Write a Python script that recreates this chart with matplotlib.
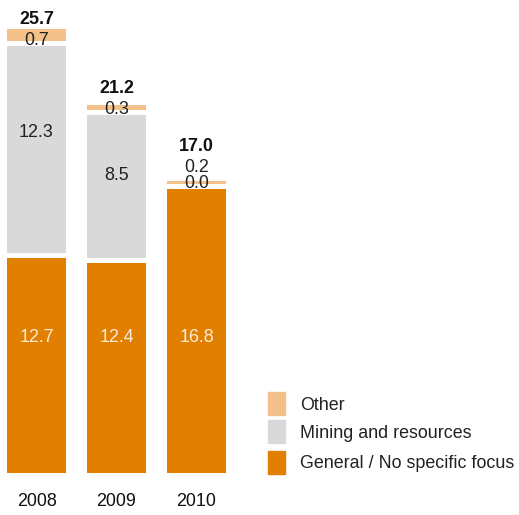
import matplotlib
matplotlib.use("Agg")
import matplotlib.pyplot as plt
from matplotlib.patches import Rectangle

plt.rcParams["font.family"] = ["Liberation Sans", "DejaVu Sans"]

# Data (USD bn)
years = ["2008", "2009", "2010"]
general = [12.7, 12.4, 16.8]
mining = [12.3, 8.5, 0.0]
other = [0.7, 0.3, 0.2]
totals = [25.7, 21.2, 17.0]

series_names = ["General / No specific focus", "Mining and resources", "Other"]
colors = ["#E17F00", "#D9D9D9", "#F3C089"]

W, H = 519, 515
fig = plt.figure(figsize=(W / 100, H / 100), dpi=100)
ax = fig.add_axes([0, 0, 1, 1])

# Pixel-based layout of the plotting area
x0_px, step_px = 36.5, 80.0      # first bar centre, spacing
base_px, unit_px = 42.0, 16.9    # baseline from bottom, pixels per unit
ax.set_xlim(-x0_px / step_px, (W - x0_px) / step_px)
ax.set_ylim(-base_px / unit_px, (H - base_px) / unit_px)
ax.axis("off")

gap = 5.0 / unit_px   # white separation between stacked segments
bar_w = 59.0 / step_px
xs = list(range(len(years)))

fs = 12.9
for i, x in enumerate(xs):
    # base segment
    ax.bar(x, general[i], bottom=0, width=bar_w, color=colors[0], zorder=2)
    top = general[i]
    ax.text(x, 8.0, f"{general[i]:.1f}", ha="center", va="center",
            color="#FCEBD8", fontsize=fs, zorder=4)

    # mining segment
    mb = top + gap
    if mining[i] > 0:
        ax.bar(x, mining[i], bottom=mb, width=bar_w, color=colors[1], zorder=2)
        ax.text(x, mb + 0.58 * mining[i], f"{mining[i]:.1f}", ha="center",
                va="center", color="#222222", fontsize=fs, zorder=4)
        label_base = mb + mining[i]
        ob = label_base + gap
    else:
        label_base = top
        ob = mb

    # other segment
    ax.bar(x, other[i], bottom=ob, width=bar_w, color=colors[2], zorder=2)

    # value labels stacked above the bar
    lines = []
    if mining[i] == 0:
        lines.append(f"{mining[i]:.1f}")
    lines.append(f"{other[i]:.1f}")
    off = 1
    for txt in lines:
        ax.annotate(txt, (x, label_base), xytext=(0, off), textcoords="offset pixels",
                    ha="center", va="baseline", fontsize=fs, color="#222222", zorder=4)
        off += 16
    ax.annotate(f"{totals[i]:.1f}", (x, label_base), xytext=(0, off + 5),
                textcoords="offset pixels", ha="center", va="baseline",
                fontsize=fs, fontweight="bold", color="#111111", zorder=4)

    # category label
    ax.annotate(years[i], (x, 0), xytext=(0, -29), textcoords="offset pixels",
                ha="center", va="center", fontsize=fs, color="#111111")

# Legend (top to bottom: Other, Mining, General)
legend_rows = [(series_names[2], colors[2], 403.5),
               (series_names[1], colors[1], 431.5),
               (series_names[0], colors[0], 462.5)]
for name, col, cy in legend_rows:
    fig.patches.append(Rectangle((268 / W, 1 - (cy + 11.5) / H), 17 / W, 23 / H,
                                 transform=fig.transFigure, color=col))
    fig.text(300 / W, 1 - (cy + 1.5) / H, name, ha="left", va="center",
             fontsize=fs, color="#222222")

fig.savefig("out.png", dpi=100)
